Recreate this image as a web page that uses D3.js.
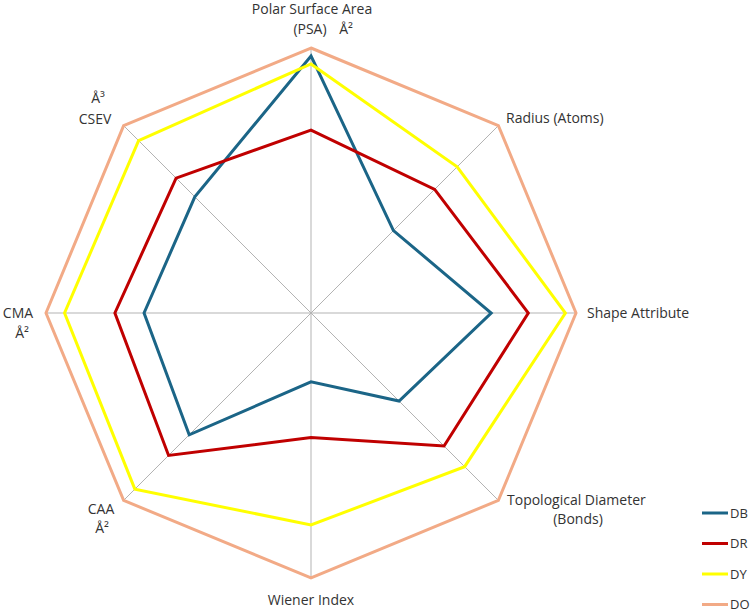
<!DOCTYPE html>
<html>
<head>
<meta charset="utf-8">
<script src="https://cdn.jsdelivr.net/npm/d3@7"></script>
<style>
  body { margin: 0; background: #fff; }
  text { font-family: "Open Sans", "Liberation Sans", sans-serif; font-size: 14px; fill: #333; }
  text.legend { font-size: 13px; }
</style>
</head>
<body>
<div id="chart"></div>
<script>
const width = 753
const height = 613

// axes of the radar, clockwise from the top
const axes = ["Polar Surface Area (PSA)", "Radius (Atoms)", "Shape Attribute",
  "Topological Diameter (Bonds)", "Wiener Index", "CAA", "CMA", "CSEV"]

// series values, relative to DO (= 100)
const seriesNames = ["DB", "DR", "DY", "DO"]
const DB = [97, 44, 68, 47, 26, 65, 63, 62]
const DR = [69, 66, 82, 71, 47, 76, 74, 72]
const DY = [94, 78, 96, 82, 80, 94, 93, 92]
const DO = [100, 100, 100, 100, 100, 100, 100, 100]
const seriesValues = [DB, DR, DY, DO]
const colors = ["#1b6587", "#c00000", "#ffff00", "#f2aa86"]

// axis label lines
const labelLines = [
  ["Polar Surface Area", "(PSA)", "Å²"],
  ["Radius (Atoms)"],
  ["Shape Attribute"],
  ["Topological Diameter", "(Bonds)"],
  ["Wiener Index"],
  ["CAA", "Å²"],
  ["CMA", "Å²"],
  ["Å³", "CSEV"]
]
const labelPos = [
  [{x: 312, y: 14}, {x: 310, y: 34}, {x: 346, y: 34}],
  [{x: 506, y: 123, a: "start"}],
  [{x: 587, y: 318, a: "start"}],
  [{x: 507, y: 505, a: "start"}, {x: 578, y: 524}],
  [{x: 311, y: 605}],
  [{x: 101, y: 514}, {x: 102, y: 533}],
  [{x: 18, y: 318}, {x: 22, y: 338}],
  [{x: 98, y: 103}, {x: 95, y: 124}]
]

const cx = 311, cy = 313, R = 265

const svg = d3.select('#chart').append('svg')
    .attr('width', width)
    .attr('height', height)

const g = svg.append('g')
    .attr('transform', `translate(${cx},${cy})`)

const rScale = d3.scaleLinear()
    .domain([0, 100])
    .range([0, R])

const angle = d3.scalePoint()
    .domain(axes)
    .range([0, 2 * Math.PI * (axes.length - 1) / axes.length])

/*
 * spokes
 */
g.selectAll('.spoke')
    .data(axes)
    .enter().append('line')
    .attr('class', 'spoke')
    .attr('x1', 0).attr('y1', 0)
    .attr('x2', d => rScale(100) * Math.sin(angle(d)))
    .attr('y2', d => -rScale(100) * Math.cos(angle(d)))
    .style('stroke', '#b3b3b3')
    .style('stroke-width', 1)

/*
 * series polygons
 */
const radar = d3.lineRadial()
    .angle((d, i) => angle(axes[i]))
    .radius(d => rScale(d))
    .curve(d3.curveLinearClosed)

for (let i = 0; i < seriesValues.length; i++) {
    g.append('path')
        .datum(seriesValues[i])
        .attr('d', radar)
        .style('fill', 'none')
        .style('stroke', colors[i])
        .style('stroke-width', 3)
        .style('stroke-linejoin', 'miter')
        .attr('class', seriesNames[i])
}

/*
 * axis labels
 */
for (let i = 0; i < labelLines.length; i++) {
    labelLines[i].forEach((t, j) => {
        const p = labelPos[i][j]
        svg.append('text')
            .attr('x', p.x)
            .attr('y', p.y)
            .attr('text-anchor', p.a || 'middle')
            .text(t)
    })
}

/*
 * legend
 */
const legend = svg.append('g')
    .attr('transform', 'translate(702,513)')

seriesNames.forEach((name, i) => {
    const y = i * 30.5
    legend.append('line')
        .attr('x1', 0).attr('x2', 26)
        .attr('y1', y).attr('y2', y)
        .style('stroke', colors[i])
        .style('stroke-width', 3)
    legend.append('text')
        .attr('class', 'legend')
        .attr('x', 28)
        .attr('y', y + 4.5)
        .text(name)
})
</script>
</body>
</html>
